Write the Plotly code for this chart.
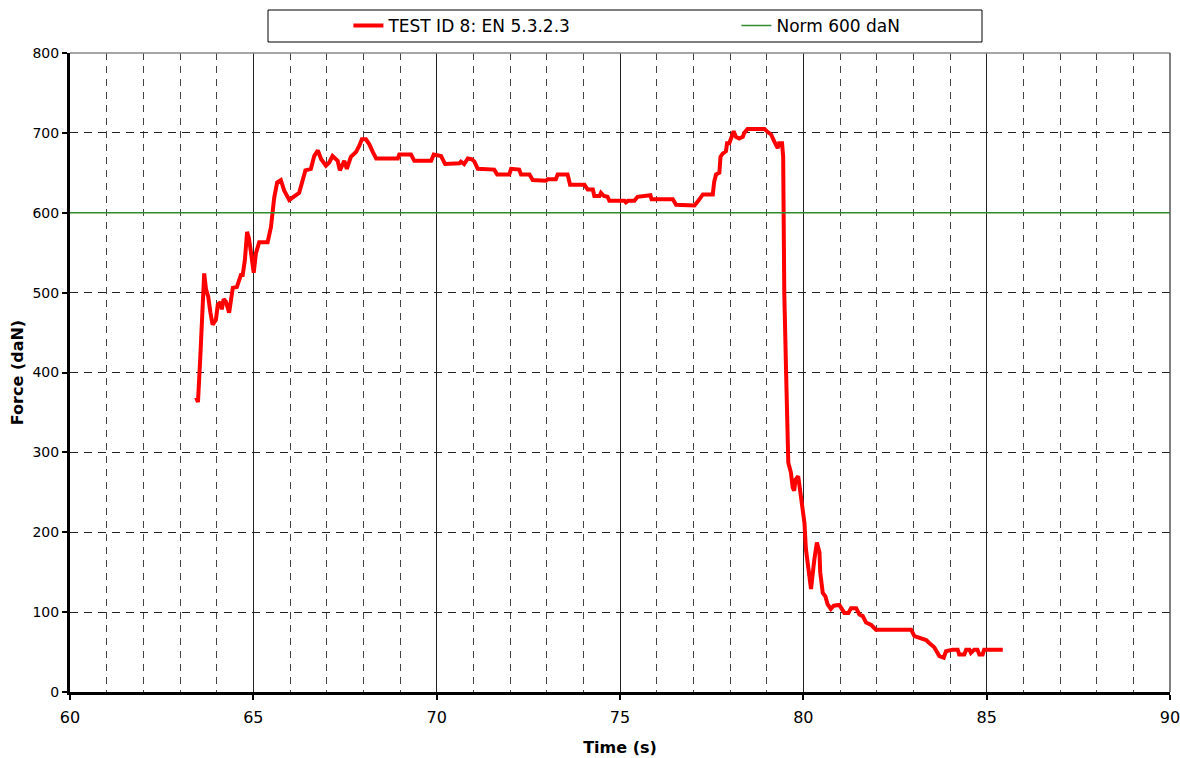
import plotly.graph_objects as go

time_s = [63.44, 63.49, 63.55, 63.59, 63.63, 63.66, 63.71, 63.77, 63.83, 63.89, 63.98,
          64.03, 64.10, 64.14, 64.19, 64.25, 64.34, 64.42, 64.44, 64.55, 64.59, 64.66,
          64.71, 64.74, 64.77, 64.83, 64.88, 64.94, 65.01, 65.07, 65.16, 65.39, 65.48,
          65.57, 65.65, 65.75, 65.84, 65.98, 66.12, 66.25, 66.42, 66.57, 66.66, 66.76,
          66.85, 66.98, 67.07, 67.16, 67.30, 67.36, 67.48, 67.55, 67.66, 67.80, 67.89,
          67.96, 68.07, 68.16, 68.26, 68.35, 68.94, 68.98, 69.30, 69.39, 69.85, 69.92,
          70.12, 70.23, 70.62, 70.66, 70.75, 70.85, 70.96, 71.03, 71.12, 71.57, 71.65,
          71.98, 72.03, 72.25, 72.30, 72.53, 72.62, 72.98, 73.03, 73.25, 73.30, 73.57,
          73.64, 74.03, 74.12, 74.26, 74.30, 74.44, 74.48, 74.56, 74.66, 74.71, 75.12,
          75.16, 75.22, 75.39, 75.48, 75.83, 75.86, 76.44, 76.53, 77.03, 77.12, 77.21,
          77.26, 77.53, 77.57, 77.62, 77.71, 77.74, 77.80, 77.89, 77.92, 77.98, 78.03,
          78.10, 78.16, 78.25, 78.35, 78.39, 78.48, 78.94, 79.03, 79.12, 79.21, 79.30,
          79.34, 79.42, 79.45, 79.46, 79.48, 79.53, 79.57, 79.59, 79.66, 79.71, 79.75,
          79.79, 79.86, 79.98, 80.03, 80.07, 80.16, 80.21, 80.30, 80.37, 80.44, 80.46,
          80.53, 80.60, 80.66, 80.75, 80.83, 80.98, 81.12, 81.23, 81.30, 81.44, 81.53,
          81.62, 81.71, 81.85, 81.98, 82.94, 83.03, 83.35, 83.44, 83.57, 83.71, 83.83,
          83.89, 84.07, 84.21, 84.25, 84.39, 84.44, 84.53, 84.57, 84.66, 84.75, 84.80,
          84.89, 84.93, 85.44]

force_dan = [369, 363, 416, 466, 508, 524, 504, 495, 475, 460, 466,
             485, 488, 479, 492, 489, 475, 500, 506, 507, 514, 522,
             522, 533, 541, 576, 568, 549, 525, 549, 563, 563, 582,
             619, 638, 641, 628, 616, 620, 625, 653, 655, 671, 678,
             667, 659, 663, 671, 665, 653, 665, 655, 670, 676, 684,
             692, 692, 686, 676, 668, 668, 673, 673, 665, 665, 673,
             671, 661, 662, 664, 661, 668, 667, 664, 655, 654, 648,
             648, 655, 654, 648, 648, 641, 640, 642, 642, 648, 648,
             635, 635, 629, 629, 621, 621, 625, 621, 620, 615, 615,
             613, 615, 615, 620, 622, 617, 617, 610, 609, 614, 620,
             623, 623, 639, 648, 650, 670, 674, 677, 687, 687, 693,
             702, 695, 693, 695, 700, 705, 705, 701, 698, 689, 681,
             687, 687, 670, 600, 500, 400, 300, 287, 275, 256, 252,
             266, 270, 233, 212, 179, 141, 129, 166, 187, 175, 150,
             124, 120, 110, 104, 108, 109, 99, 99, 105, 105, 97,
             95, 87, 84, 78, 78, 70, 65, 61, 56, 45, 43,
             51, 53, 53, 47, 47, 53, 53, 49, 53, 53, 47,
             47, 53, 53]

norm_time = [60, 90]
norm_force = [600, 600]

series_names = ["TEST ID 8: EN 5.3.2.3", "Norm 600 daN"]
x_ticks = [60, 65, 70, 75, 80, 85, 90]
y_ticks = [0, 100, 200, 300, 400, 500, 600, 700, 800]

FONT = "Verdana, DejaVu Sans, sans-serif"

fig = go.Figure()
fig.add_trace(go.Scatter(x=time_s, y=force_dan, mode="lines", name=series_names[0],
                         line=dict(color="#ff0000", width=4)))
fig.add_trace(go.Scatter(x=norm_time, y=norm_force, mode="lines", name=series_names[1],
                         line=dict(color="#2e8b2e", width=1.5)))

fig.update_layout(
    width=1180, height=758,
    margin=dict(l=70, r=10, t=53, b=66, autoexpand=False),
    paper_bgcolor="white", plot_bgcolor="white",
    font=dict(family=FONT, size=14, color="black"),
    showlegend=True,
    legend=dict(orientation="h", x=0.2531, xanchor="left", y=1.0423, yanchor="middle",
                bgcolor="rgba(0,0,0,0)", borderwidth=0,
                font=dict(family=FONT, size=17, color="black"),
                entrywidth=343, entrywidthmode="pixels",
                itemwidth=30, tracegroupgap=0),
    xaxis=dict(range=[60, 90], tickvals=x_ticks, ticks="outside", ticklen=5, tickwidth=2,
               tickcolor="black", showline=True, linecolor="black", linewidth=3,
               showgrid=True, gridcolor="#222222", gridwidth=1, automargin=False,
               minor=dict(dtick=1, showgrid=True, gridcolor="#444444", griddash="7px,6px",
                          gridwidth=1, ticks=""),
               ticklabeloverflow="allow", ticklabelstandoff=4,
               tickfont=dict(size=16, family=FONT), zeroline=False,
               title=dict(text="<b>Time (s)</b>", font=dict(size=16, family=FONT), standoff=16)),
    yaxis=dict(range=[0, 800], tickvals=y_ticks, ticks="outside", ticklen=5, tickwidth=2,
               tickcolor="black", showline=True, linecolor="black", linewidth=3,
               showgrid=True, gridcolor="#222222", gridwidth=1, griddash="8px,6px",
               automargin=False,
               tickfont=dict(size=14, family=FONT), zeroline=False,
               title=dict(text="<b>Force (daN)</b>", font=dict(size=16, family=FONT), standoff=5)),
    shapes=[
        dict(type="line", xref="paper", yref="paper", x0=0, x1=1, y0=1, y1=1,
             line=dict(color="#888888", width=1.5), layer="above"),
        dict(type="line", xref="paper", yref="paper", x0=1, x1=1, y0=0, y1=1,
             line=dict(color="#555555", width=1.5), layer="above"),
        dict(type="rect", xref="paper", yref="paper",
             x0=(268 - 70) / 1100, x1=(982 - 70) / 1100,
             y0=1 + (53 - 42) / 639, y1=1 + (53 - 10) / 639,
             line=dict(color="black", width=1), fillcolor="rgba(0,0,0,0)"),
    ],
)

fig.write_html("out.html")
